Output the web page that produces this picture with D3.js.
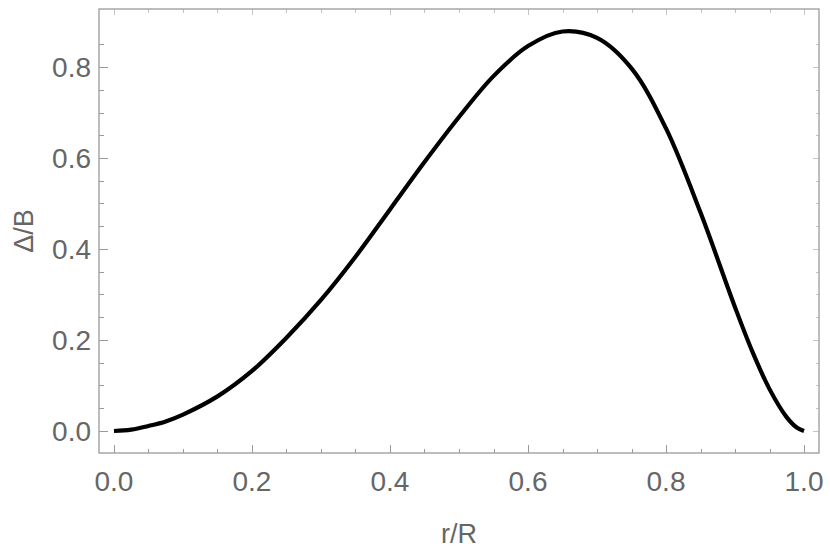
<!DOCTYPE html>
<html>
<head>
<meta charset="utf-8">
<script src="https://cdn.jsdelivr.net/npm/d3@7"></script>
<style>
  body { margin: 0; background: #fff; }
  svg { display: block; }
</style>
</head>
<body>
<div id="chart"></div>
<script>
// Gap profile
const rValues = [0, 0.025, 0.05, 0.075, 0.10, 0.15, 0.20, 0.25, 0.30, 0.35, 0.40, 0.45, 0.50,
                 0.55, 0.60, 0.65, 0.70, 0.75, 0.80, 0.85, 0.90, 0.925, 0.95, 0.975, 0.99, 1.0];
const gapValues = [0, 0.003, 0.011, 0.021, 0.036, 0.076, 0.132, 0.205, 0.288, 0.383, 0.487, 0.591, 0.690,
                   0.780, 0.846, 0.878, 0.864, 0.797, 0.665, 0.480, 0.272, 0.175, 0.092, 0.030, 0.007, 0.0];

const majorTicks = [0, 0.2, 0.4, 0.6, 0.8, 1.0];
const xLabel = 'r/R';
const yLabel = 'Δ/B';

const width = 830;
const height = 551;
const margin = { top: 9, right: 11, bottom: 98, left: 99 };

const frameColor = '#9a9a9a';
const lightTick = '#c4c4c4';
const textColor = '#666';
const font = '"Liberation Sans", Arial, sans-serif';

const svg = d3.select('#chart').append('svg')
    .attr('width', width)
    .attr('height', height);

const x = d3.scaleLinear()
    .domain([-0.0217, 1.0217])
    .range([margin.left, width - margin.right]);

const y = d3.scaleLinear()
    .domain([-0.0484, 0.9275])
    .range([height - margin.bottom, margin.top]);

const x0 = margin.left, x1 = width - margin.right;
const y0 = height - margin.bottom, y1 = margin.top;

// minor ticks every 0.05
const xMinor = d3.range(0, 1.0001, 0.05).filter(v => !majorTicks.some(m => Math.abs(m - v) < 1e-6));
const yMinor = d3.range(0, 0.9, 0.05).filter(v => !majorTicks.some(m => Math.abs(m - v) < 1e-6));
const yMajor = majorTicks.filter(v => v < 0.9);

const ticks = svg.append('g').attr('shape-rendering', 'crispEdges');

// bottom & left ticks (with labels)
ticks.selectAll('.xb').data(majorTicks.map(v => [v, 8]).concat(xMinor.map(v => [v, 4.5])))
    .enter().append('line')
    .attr('x1', d => Math.round(x(d[0])) + 0.5).attr('x2', d => Math.round(x(d[0])) + 0.5)
    .attr('y1', y0).attr('y2', d => y0 - d[1])
    .attr('stroke', frameColor).attr('stroke-width', 1);

ticks.selectAll('.yl').data(yMajor.map(v => [v, 8.5]).concat(yMinor.map(v => [v, 5])))
    .enter().append('line')
    .attr('y1', d => Math.round(y(d[0])) + 0.5).attr('y2', d => Math.round(y(d[0])) + 0.5)
    .attr('x1', x0).attr('x2', d => x0 + d[1])
    .attr('stroke', frameColor).attr('stroke-width', 1);

// top & right ticks (lighter, no labels)
ticks.selectAll('.xt').data(majorTicks.map(v => [v, 6]).concat(xMinor.map(v => [v, 3.5])))
    .enter().append('line')
    .attr('x1', d => Math.round(x(d[0])) + 0.5).attr('x2', d => Math.round(x(d[0])) + 0.5)
    .attr('y1', y1).attr('y2', d => y1 + d[1])
    .attr('stroke', lightTick).attr('stroke-width', 1);

ticks.selectAll('.yr').data(yMajor.map(v => [v, 6]).concat(yMinor.map(v => [v, 3.5])))
    .enter().append('line')
    .attr('y1', d => Math.round(y(d[0])) + 0.5).attr('y2', d => Math.round(y(d[0])) + 0.5)
    .attr('x1', x1).attr('x2', d => x1 - d[1])
    .attr('stroke', lightTick).attr('stroke-width', 1);

// frame
svg.append('rect')
    .attr('x', x0).attr('y', y1)
    .attr('width', x1 - x0).attr('height', y0 - y1)
    .attr('fill', 'none')
    .attr('stroke', frameColor)
    .attr('stroke-width', 1.3);

// tick labels
svg.selectAll('.xlab').data(majorTicks).enter().append('text')
    .attr('x', d => x(d))
    .attr('y', 491)
    .attr('text-anchor', 'middle')
    .style('font-family', font).style('font-size', '28px').style('fill', textColor)
    .text(d3.format('.1f'));

svg.selectAll('.ylab').data(yMajor).enter().append('text')
    .attr('x', 91)
    .attr('y', d => y(d))
    .attr('dy', '0.36em')
    .attr('text-anchor', 'end')
    .style('font-family', font).style('font-size', '28px').style('fill', textColor)
    .text(d3.format('.1f'));

// axis labels
svg.append('text')
    .attr('x', (x0 + x1) / 2)
    .attr('y', 543)
    .attr('text-anchor', 'middle')
    .style('font-family', font).style('font-size', '27px').style('fill', textColor)
    .text(xLabel);

svg.append('text')
    .attr('transform', `translate(33,${(y0 + y1) / 2}) rotate(-90)`)
    .attr('text-anchor', 'middle')
    .style('font-family', font).style('font-size', '27px').style('fill', textColor)
    .text(yLabel);

// curve
const pts = rValues.map((r, i) => [r, gapValues[i]]);
const line = d3.line()
    .x(d => x(d[0]))
    .y(d => y(d[1]))
    .curve(d3.curveCatmullRom.alpha(0.5));

svg.append('path')
    .datum(pts)
    .attr('d', line)
    .attr('fill', 'none')
    .attr('stroke', '#000')
    .attr('stroke-width', 4.2);
</script>
</body>
</html>
